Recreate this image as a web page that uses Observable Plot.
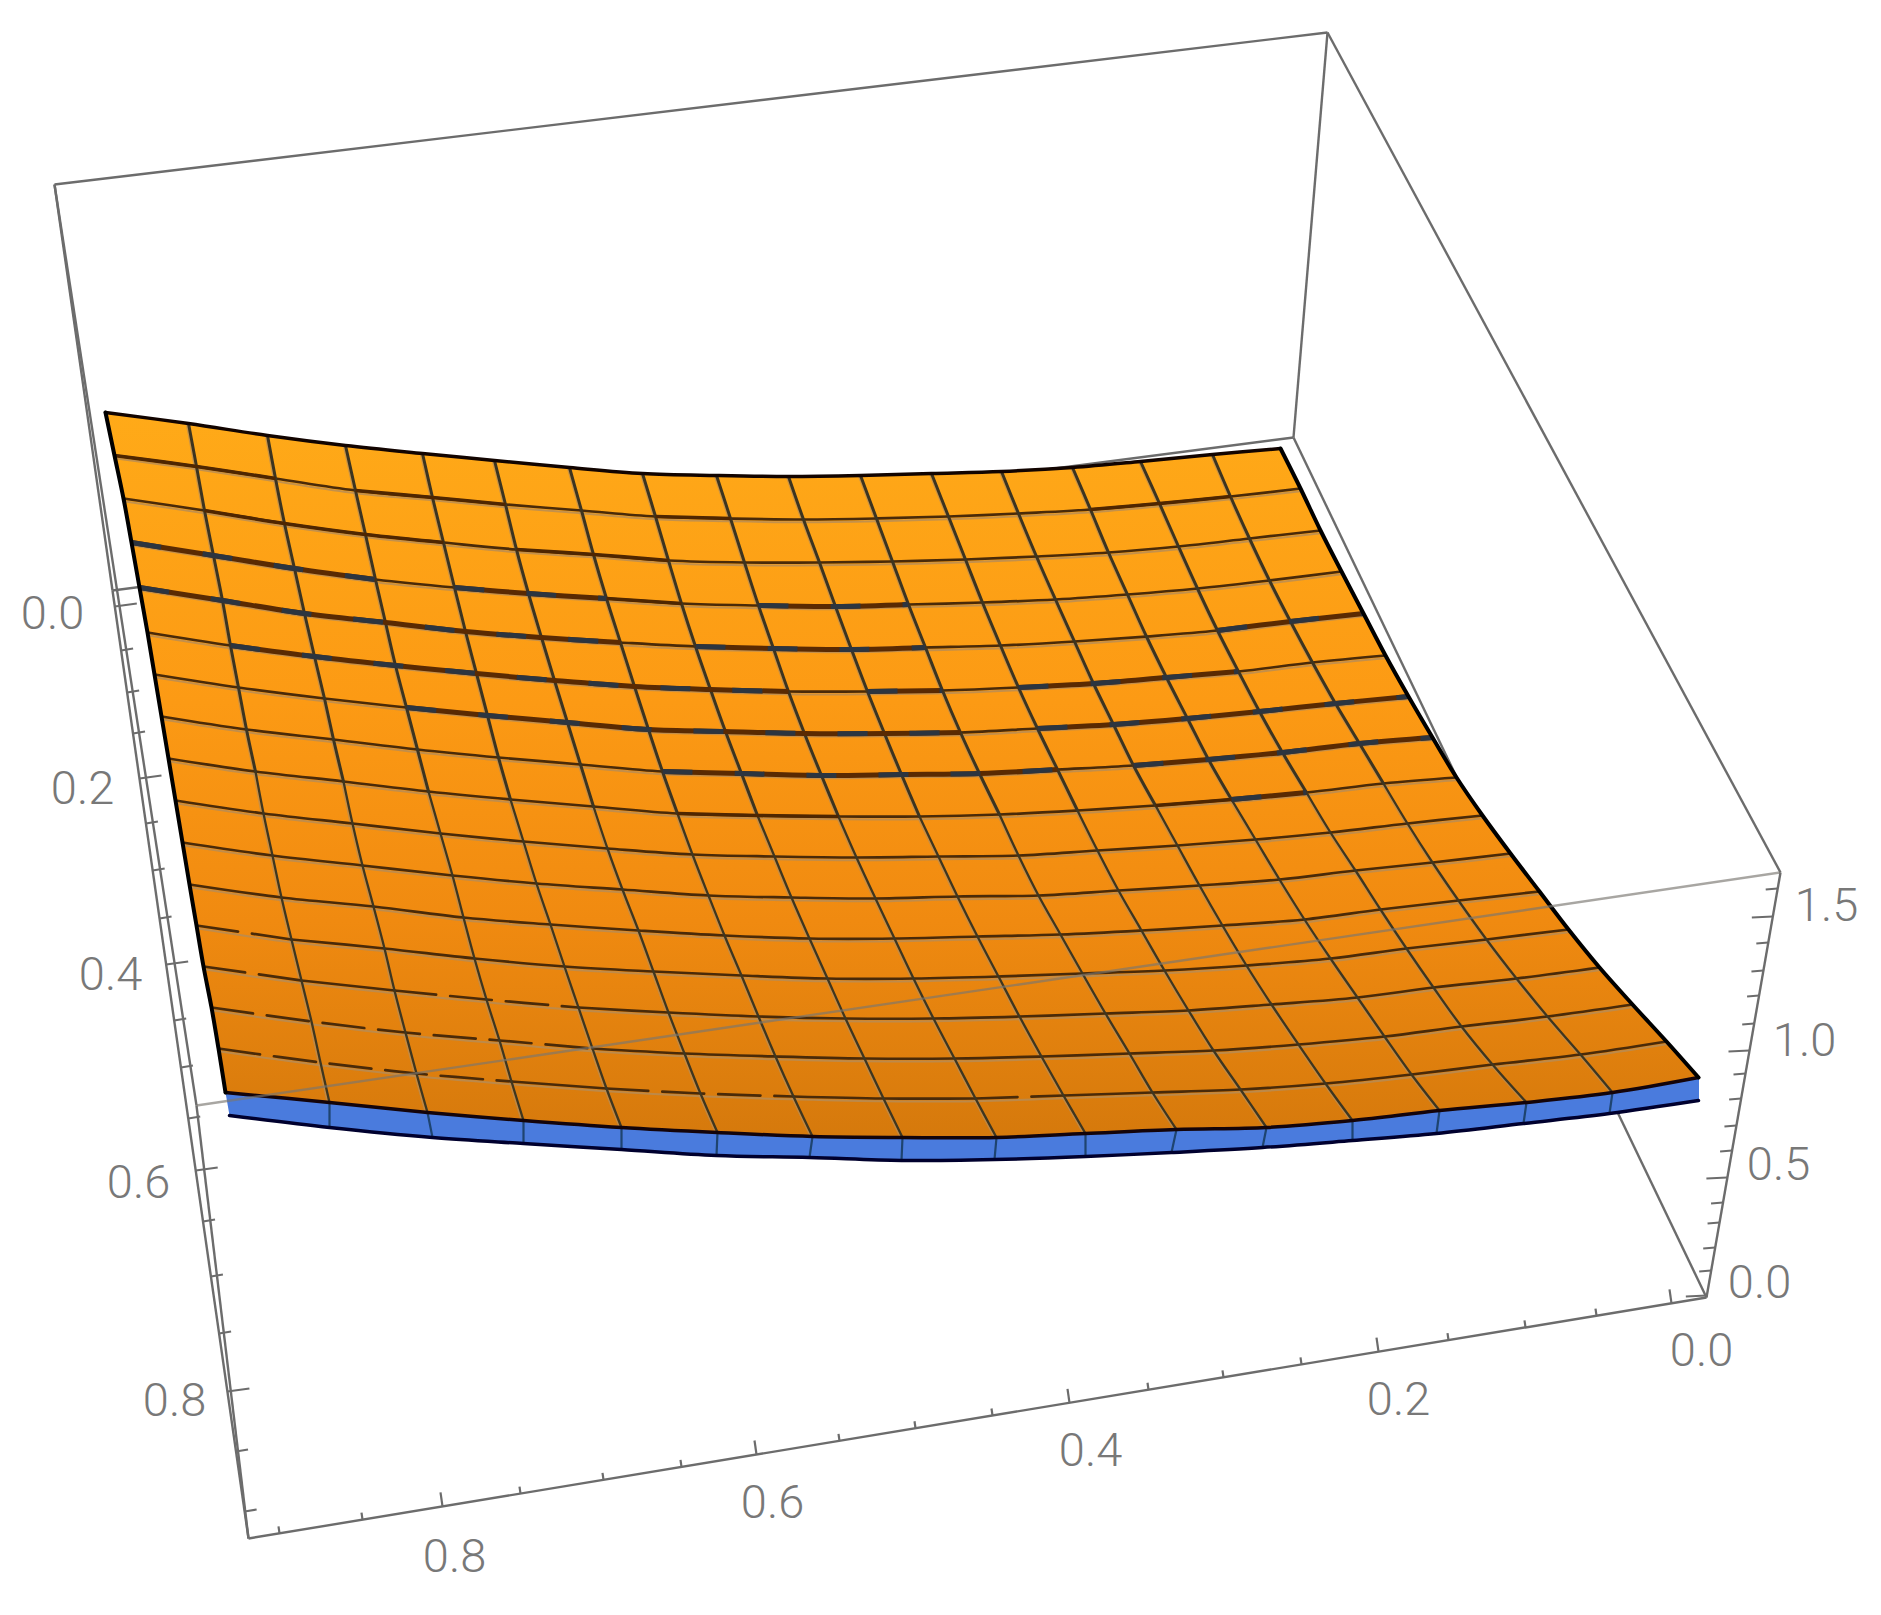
<!DOCTYPE html>
<html>
<head>
<meta charset="utf-8">
<style>html,body{margin:0;padding:0;background:#fff}svg{display:block}</style>
<script src="https://cdn.jsdelivr.net/npm/d3@7"></script>
<script src="https://cdn.jsdelivr.net/npm/@observablehq/plot@0.6"></script>
</head>
<body>
<div id="chart"></div>
<script>
// Mesh nodes of the projected surface, listed column by column (17 rows each).
const columnX = [
[105,114,123,131,139,147,154,161,168,175,182,189,196,203,211,218,225],
[188,196,204,213,222,230,238,246,255,263,272,281,291,301,311,320,329],
[267,275,284,294,304,314,324,333,343,352,362,373,384,394,405,416,427],
[345,355,365,375,385,395,406,417,428,440,452,463,474,486,499,511,523],
[422,432,443,454,465,476,487,498,510,523,536,550,564,578,592,606,621],
[494,505,516,528,541,554,567,580,593,607,622,638,653,668,684,700,717],
[569,581,593,606,620,634,648,662,677,692,708,724,741,758,775,793,812],
[642,655,668,681,695,710,725,741,757,774,791,809,827,845,864,883,902],
[716,730,744,758,773,788,804,821,838,856,875,894,913,933,954,975,996],
[788,803,819,835,851,867,884,901,919,938,957,977,998,1019,1041,1063,1085],
[860,876,892,908,925,942,960,979,999,1018,1038,1060,1082,1105,1129,1152,1176],
[931,948,965,982,1000,1018,1037,1057,1077,1097,1118,1141,1164,1188,1213,1240,1266],
[1001,1018,1036,1055,1074,1093,1113,1133,1155,1177,1199,1222,1246,1271,1298,1325,1352],
[1072,1090,1108,1127,1146,1166,1187,1208,1231,1255,1279,1304,1330,1357,1384,1411,1439],
[1140,1159,1178,1197,1217,1238,1259,1282,1306,1330,1355,1380,1406,1433,1461,1492,1526],
[1212,1230,1249,1269,1290,1312,1335,1359,1383,1407,1432,1458,1486,1516,1547,1580,1612],
[1280,1300,1320,1341,1363,1385,1408,1432,1456,1482,1510,1539,1568,1599,1632,1666,1698]];
const columnY = [
[412,455,498,542,587,632,674,716,758,800,842,884,925,966,1007,1048,1092],
[423,466,510,555,600,645,687,729,771,813,855,897,939,980,1021,1062,1102],
[435,478,523,568,613,656,698,739,781,823,865,906,948,990,1032,1073,1112],
[445,490,534,579,622,665,707,749,791,833,875,917,958,999,1040,1081,1120],
[453,497,542,587,631,673,715,757,799,841,883,924,966,1007,1048,1088,1127],
[460,504,549,593,637,680,722,764,806,848,889,930,971,1012,1053,1093,1132],
[467,510,554,598,642,686,729,771,813,854,895,935,975,1016,1056,1096,1136],
[473,516,560,603,646,689,731,773,815,856,897,938,978,1018,1058,1098,1137],
[475,518,562,605,648,691,733,775,816,857,898,938,978,1018,1058,1098,1137],
[476,519,562,606,649,691,733,774,816,856,896,936,976,1016,1056,1095,1133],
[475,518,561,604,647,690,732,773,814,855,895,934,973,1013,1053,1092,1129],
[473,516,559,602,645,687,728,769,810,850,890,930,970,1010,1050,1089,1127],
[471,513,556,599,641,683,724,765,805,845,885,925,965,1004,1044,1083,1120],
[467,509,552,594,636,677,718,759,799,839,879,919,958,997,1036,1074,1110],
[461,503,546,588,630,671,711,752,792,832,870,909,948,987,1026,1064,1102],
[454,496,538,580,621,662,703,743,783,823,862,900,939,978,1016,1054,1092],
[448,488,530,571,613,655,696,737,777,815,853,891,929,967,1004,1041,1077]];
// Lower (blue) surface: its visible front edge
const blueEdgeX = [229,329,432,523,621,716,809,901,994,1085,1171,1262,1352,1436,1523,1609,1698];
const blueEdgeY = [1115,1127,1137,1143,1149,1155,1157,1160,1159,1156,1152,1147,1140,1133,1123,1113,1100];
// Row stretches that show z-fighting [row, fromCol, toCol], and broken ones
const mediumSpans = [[1,0,2],[1,3,5],[1,7,8],[1,13,15],[2,1,4],[2,5,7],[3,5,7],[8,6,8],[8,12,14]];
const heavySpans = [[3,0,3],[3,4,6],[3,8,10],[4,0,6],[4,7,10],[4,14,16],[5,1,8],[5,9,10],[5,11,14],[6,3,10],[6,11,16],[7,6,11],[7,12,16],[8,13,14]];
const brokenSpans = [[12,0,1],[13,0,1],[13,2,4],[14,0,4],[15,0,3],[15,4,6],[15,8,9]];
// Bounding box corners
const corners = {A:[54,184],B:[1327,32],C:[1780,872],D:[196,1105],E:[248,1538],H:[1706,1297],Bb:[1293,437],Ab:[112,590]};
const backEdges = [["A","B"],["B","C"],["B","Bb"],["Bb","Ab"],["Bb","H"],["A","Ab"],["Ab","E"],["A","D"],["D","E"],["E","H"],["H","C"]];
// Axis ticks: screen position along each edge, with the value they carry
const zTickValues = [0,.1,.2,.3,.4,.5,.6,.7,.8,.9,1,1.1,1.2,1.3,1.4,1.5,1.6];
const zTickY = [1295,1270,1247,1222,1202,1177,1150,1125,1098,1073,1050,1023,995,970,942,916,888];
const yTickValues = [0,.05,.1,.15,.2,.25,.3,.35,.4,.45,.5,.55,.6,.65,.7,.75,.8,.85,.9];
const yTickY = [606,650,692,733,778,823,870,918,964,1020,1067,1118,1170,1221,1276,1333,1391,1451,1511];
const xTickValues = [0,.05,.1,.15,.2,.25,.3,.35,.4,.45,.5,.55,.6,.65,.7,.75,.8,.85,.9];
const xTickX = [1671,1596,1525,1448,1378,1301,1223,1148,1069,992,915,839,756,681,603,520,442,362,279];
// Tick labels
const zLabels = ["0.0","0.5","1.0","1.5"], zLabelX = [1759,1778,1804,1826], zLabelY = [1282,1164,1040,905];
const yLabels = ["0.0","0.2","0.4","0.6","0.8"], yLabelX = [52,82,110,138,174], yLabelY = [613,788,974,1182,1400];
const xLabels = ["0.0","0.2","0.4","0.6","0.8"], xLabelX = [1701,1398,1090,772,454], xLabelY = [1350,1399,1450,1502,1556];

const nC = columnX.length, nR = columnX[0].length;
const node = (r,c,k) => ({x:columnX[c][r], y:columnY[c][r], k});
const span = (r,c0,c1,k) => d3.range(c0,c1+1).map(c => node(r,c,k));

const isBroken = (r,c) => brokenSpans.some(([R,a,b]) => R===r && c>=a && c<b);
const solidRows = [], brokenRows = [];
for (let r=1;r<nR-1;r++) {
  let start = 0;
  for (let c=1;c<=nC-1;c++) {
    if (c===nC-1 || isBroken(r,c)!==isBroken(r,start)) {
      (isBroken(r,start)?brokenRows:solidRows).push(...span(r,start,c,`${r}-${start}`));
      start = c;
    }
  }
}
const allRows = d3.range(1,nR-1).flatMap(r => span(r,0,nC-1,`r${r}`));
const colPart = (r0,r1) => d3.range(1,nC-1).flatMap(c => d3.range(r0,r1+1).map(r => node(r,c,`c${c}`)));
const cols = colPart(0,nR-1), colsUpper = colPart(0,8), colsLower = colPart(8,nR-1);
const medium = mediumSpans.flatMap(([r,a,b],i) => span(r,a,b,`m${i}`));
const heavy = heavySpans.flatMap(([r,a,b],i) => span(r,a,b,`h${i}`));
const topEdge = d3.range(nC).map(c=>node(0,c));
const bottomEdge = d3.range(nC).map(c=>node(nR-1,c));
const leftEdge = d3.range(nR).map(r=>node(r,0));
const rightEdge = d3.range(nR).map(r=>node(r,nC-1));
const outline = [...topEdge,...rightEdge,...bottomEdge.slice().reverse(),...leftEdge.slice().reverse()];
const blueEdge = blueEdgeX.map((x,i)=>({x,y:blueEdgeY[i]}));
const blueShape = [...bottomEdge,...blueEdge.slice().reverse()];
const blueCols = blueEdge.flatMap((p,i)=> (i>0&&i<nC-1) ? [{...node(nR-1,i),k:i},{...p,k:i}] : []);

const edgeSegs = backEdges.map(([a,b])=>({x1:corners[a][0],y1:corners[a][1],x2:corners[b][0],y2:corners[b][1]}));
const lerpX = (a,b,y)=>corners[a][0]+(corners[b][0]-corners[a][0])*(y-corners[a][1])/(corners[b][1]-corners[a][1]);
const lerpY = (a,b,x)=>corners[a][1]+(corners[b][1]-corners[a][1])*(x-corners[a][0])/(corners[b][0]-corners[a][0]);
const zTicks = zTickY.map((y,i)=>{const m=i%5===0,x=lerpX("H","C",y);return {x1:x,y1:y,x2:x-(m?21:12),y2:y+1};});
const yTicks = yTickY.map((y,i)=>{const m=i%4===0,x=lerpX("Ab","E",y);return {x1:x,y1:y,x2:x+(m?22:12),y2:y-(m?3:2)};});
const xTicks = xTickX.map((x,i)=>{const m=i%4===0,y=lerpY("E","H",x);return {x1:x,y1:y,x2:x-(m?2:1),y2:y-(m?14:7)};});
const labels = (t,x,y)=>t.map((text,i)=>({text,x:x[i],y:y[i]}));
const allLabels = [...labels(zLabels,zLabelX,zLabelY),...labels(yLabels,yLabelX,yLabelY),...labels(xLabels,xLabelX,xLabelY)];

const gray = "#6C6C6C";
const shade = () => {
  const defs = d3.create("svg:defs");
  const g = defs.append("linearGradient").attr("id","surfaceShade").attr("gradientUnits","userSpaceOnUse")
    .attr("x1",0).attr("x2",0).attr("y1",410).attr("y2",1140);
  [[0,"#FFAA18"],[.4,"#FC9A14"],[.7,"#F08A10"],[1,"#D5790C"]].forEach(([o,c])=>g.append("stop").attr("offset",o).attr("stop-color",c));
  return defs.node();
};
const smooth = "catmull-rom";
const ln = (data,o)=>Plot.line(data,{x:"x",y:"y",curve:smooth,...o});
const link = (data,o)=>Plot.link(data,{x1:"x1",y1:"y1",x2:"x2",y2:"y2",...o});

const plot = Plot.plot({
  width:1881, height:1615, margin:0, axis:null,
  x:{domain:[0,1881],range:[0,1881]}, y:{domain:[0,1615],range:[0,1615]},
  marks:[
    shade,
    link(edgeSegs,{stroke:gray,strokeWidth:2.4}),
    ln(blueShape,{curve:"linear",fill:"#4A7BDD",stroke:"#4A7BDD",strokeWidth:1}),
    ln(blueCols,{curve:"linear",z:"k",stroke:"#1E4470",strokeWidth:2.2}),
    ln(blueEdge,{stroke:"#00002E",strokeWidth:3.5}),
    ln(outline,{curve:"linear",fill:"url(#surfaceShade)",stroke:"none",strokeWidth:0}),
    ln(allRows,{z:"k",stroke:"#B58C58",strokeWidth:2,dy:2.8,strokeOpacity:.8}),
    ln(cols,{z:"k",stroke:"#B58C58",strokeWidth:1.6,dx:-2,strokeOpacity:.75}),
    ln(solidRows,{z:"k",stroke:"#4A2A08",strokeWidth:2.7}),
    ln(brokenRows,{z:"k",stroke:"#4A2A08",strokeWidth:2.7,strokeDasharray:"42 14"}),
    ln(colsUpper,{z:"k",stroke:"#3C3420",strokeWidth:3}),
    ln(colsLower,{z:"k",stroke:"#3E3620",strokeWidth:2.3}),
    ln(medium,{z:"k",stroke:"#4F2600",strokeWidth:3.6,strokeLinecap:"butt"}),
    ln(heavy,{z:"k",stroke:"#5A2A02",strokeWidth:5,strokeLinecap:"butt"}),
    ln(heavy,{z:"k",stroke:"#2C3540",strokeWidth:5,strokeLinecap:"butt",strokeDasharray:"30 42"}),
    ln(topEdge,{stroke:"#120400",strokeWidth:3.5}),
    ln(bottomEdge,{stroke:"#14040A",strokeWidth:3.5}),
    ln(leftEdge,{stroke:"#000",strokeWidth:4}),
    ln(rightEdge,{stroke:"#000",strokeWidth:4}),
    link([{x1:corners.C[0],y1:corners.C[1],x2:corners.D[0],y2:corners.D[1]}],{stroke:"#7A7670",strokeWidth:2.4,strokeOpacity:.65}),
    link([...zTicks,...yTicks,...xTicks],{stroke:gray,strokeWidth:2.2}),
    Plot.text(allLabels,{x:"x",y:"y",text:"text",fontSize:47,fontWeight:300,fontFamily:"Roboto, 'Liberation Sans', sans-serif",fill:"#787878",textAnchor:"middle",lineAnchor:"middle"})
  ]
});
document.getElementById("chart").append(plot);
</script>
</body>
</html>
